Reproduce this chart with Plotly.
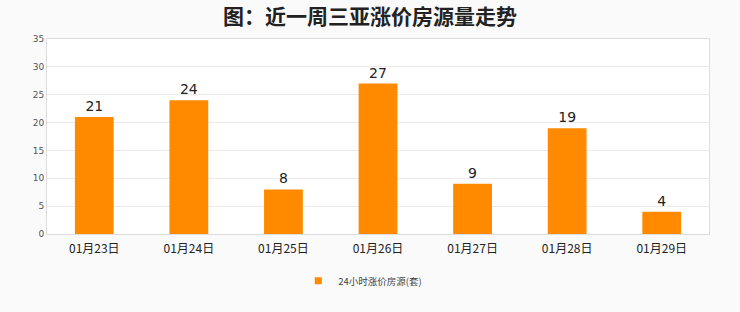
import plotly.graph_objects as go

categories = ["01月23日", "01月24日", "01月25日", "01月26日", "01月27日", "01月28日", "01月29日"]
values = [21, 24, 8, 27, 9, 19, 4]
series_name = "24小时涨价房源(套)"
title = "图：近一周三亚涨价房源量走势"
y_ticks = [0, 5, 10, 15, 20, 25, 30, 35]
bar_color = "#FF8A00"

fig = go.Figure()
fig.add_trace(go.Bar(
    x=categories, y=values, name=series_name, showlegend=False,
    marker=dict(color=bar_color, line=dict(width=0)),
    width=0.41,
    text=[str(v) for v in values], textposition="outside",
    textfont=dict(size=14, color="#222222", family="DejaVu Sans"),
    cliponaxis=False,
))
# legend entry with a small square symbol
fig.add_trace(go.Scatter(
    x=[categories[0]], y=[None], mode="markers", name=series_name,
    marker=dict(symbol="square", size=7, color=bar_color),
    hoverinfo="skip",
))

fig.update_layout(
    width=740, height=312,
    margin=dict(l=47, r=31, t=39, b=78, autoexpand=False),
    paper_bgcolor="#FAFAFA", plot_bgcolor="#FFFFFF",
    title=dict(text="<b>" + title + "</b>", x=0.5, xanchor="center", yref="container",
               y=0.948, yanchor="middle",
               font=dict(size=21, color="#222222", family="Noto Sans CJK SC")),
    showlegend=True,
    legend=dict(orientation="h", x=0.477, xanchor="center", yref="container", y=0.1, yanchor="middle",
                font=dict(size=9.5, color="#444444", family="Noto Sans CJK SC"),
                itemwidth=30, bgcolor="rgba(0,0,0,0)"),
    font=dict(family="DejaVu Sans"),
)
fig.update_xaxes(showgrid=False, showline=True, linecolor="#DDDDDD", mirror=True,
                 ticks="", ticklabelstandoff=4,
                 tickfont=dict(size=12, color="#222222", family="Noto Sans CJK SC"))
fig.update_yaxes(range=[0, 35], tickvals=y_ticks, showgrid=True, gridcolor="#EBEBEB",
                 showline=True, linecolor="#DDDDDD", mirror=True, zeroline=False,
                 ticks="", tickfont=dict(size=9, color="#555555", family="DejaVu Sans"))

fig.write_html("out.html")
